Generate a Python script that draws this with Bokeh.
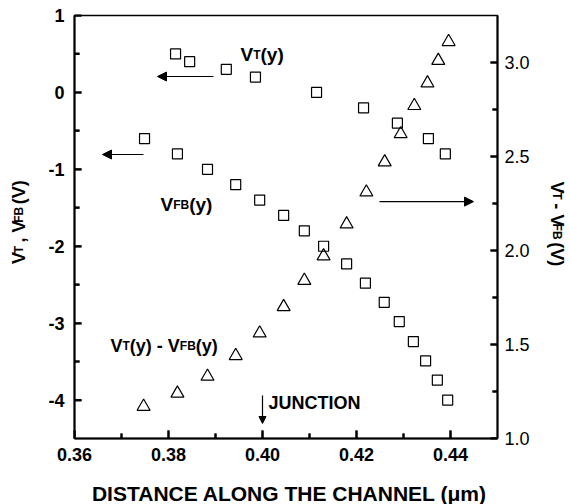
import math
from bokeh.plotting import figure
from bokeh.models import Range1d, LinearAxis, FixedTicker, Arrow, NormalHead
from bokeh.layouts import row, column
from bokeh.core.properties import value
from bokeh.embed import file_html
from bokeh.resources import INLINE

# ---------------- data ----------------
vt_x = [0.3815, 0.3845, 0.3923, 0.3985, 0.4115, 0.4215, 0.4287, 0.4353, 0.4389]
vt_y = [0.50, 0.40, 0.30, 0.20, 0.00, -0.20, -0.40, -0.60, -0.80]

vfb_x = [0.3749, 0.3819, 0.3883, 0.3943, 0.3994, 0.4045, 0.4089, 0.4130,
         0.4179, 0.4219, 0.4259, 0.4291, 0.4321, 0.4347, 0.4372, 0.4394]
vfb_y = [-0.60, -0.80, -1.00, -1.20, -1.40, -1.60, -1.80, -2.00,
         -2.23, -2.48, -2.73, -2.98, -3.24, -3.49, -3.74, -4.00]

diff_x = [0.3747, 0.3819, 0.3883, 0.3943, 0.3994, 0.4045, 0.4089, 0.4130,
          0.4179, 0.4221, 0.4260, 0.4294, 0.4323, 0.4351, 0.4374, 0.4396]
diff_y = [1.17, 1.24, 1.33, 1.44, 1.56, 1.70, 1.84, 1.97,
          2.14, 2.31, 2.47, 2.62, 2.77, 2.89, 3.01, 3.11]

x_ticks = [0.36, 0.38, 0.40, 0.42, 0.44]
x_tick_labels = ["0.36", "0.38", "0.40", "0.42", "0.44"]
x_minor = [0.37, 0.39, 0.41, 0.43]

yl_ticks = [-4, -3, -2, -1, 0, 1]
yl_tick_labels = ["-4", "-3", "-2", "-1", "0", "1"]
yl_minor = [-3.5, -2.5, -1.5, -0.5, 0.5]

yr_ticks = [1.0, 1.5, 2.0, 2.5, 3.0]
yr_tick_labels = ["1.0", "1.5", "2.0", "2.5", "3.0"]
yr_minor = [1.25, 1.75, 2.25, 2.75]

x_title = "DISTANCE ALONG THE CHANNEL (\u03bcm)"

X0, X1 = 0.36, 0.45
YL0, YL1 = -4.5, 1.0
YR0, YR1 = 1.0, 3.25

# ---------------- layout geometry (page pixels) ----------------
SIDE_L, SIDE_R = 30, 30
FL, FT, FW, FH = 74, 15, 423, 423          # frame position on the page
MAIN_W = 570 - SIDE_L - SIDE_R
MAIN_H = 476
BOT_H = 504 - MAIN_H
FONT = "Liberation Sans"

p = figure(width=MAIN_W, height=MAIN_H, frame_width=FW, frame_height=FH,
           min_border_left=FL - SIDE_L, min_border_right=MAIN_W - (FL - SIDE_L) - FW,
           min_border_top=FT, min_border_bottom=MAIN_H - FT - FH,
           x_range=Range1d(X0, X1), y_range=Range1d(YL0, YL1),
           output_backend="svg", toolbar_location=None)
p.extra_y_ranges = {"right": Range1d(YR0, YR1)}
p.xgrid.visible = False
p.ygrid.visible = False
p.outline_line_color = "black"
p.outline_line_width = 1.5
p.background_fill_color = "white"
p.border_fill_color = "white"

DX = (X1 - X0) / FW          # data per pixel, x
DYL = (YL1 - YL0) / FH       # data per pixel, left y
DYR = (YR1 - YR0) / FH       # data per pixel, right y


def px_x(px):
    return X0 + (px - FL) * DX


def px_yl(py):
    return YL1 - (py - FT) * DYL


def style_axis(ax, ticks, labels, minor, bold, tick_len):
    ax.ticker = FixedTicker(ticks=ticks, minor_ticks=minor)
    ax.major_label_overrides = {t: l for t, l in zip(ticks, labels)}
    ax.axis_line_width = 2
    ax.axis_line_color = "black"
    ax.major_tick_in = tick_len
    ax.major_tick_out = 0
    ax.minor_tick_in = 5
    ax.minor_tick_out = 0
    ax.major_tick_line_width = 2
    ax.minor_tick_line_width = 2
    ax.major_tick_line_color = "black"
    ax.minor_tick_line_color = "black"
    ax.major_label_text_font = FONT
    ax.major_label_text_font_size = "18px"
    ax.major_label_text_font_style = "bold" if bold else "normal"
    ax.major_label_text_color = "black"


style_axis(p.xaxis[0], x_ticks, x_tick_labels, x_minor, True, 8)
p.xaxis[0].major_label_standoff = 9
style_axis(p.yaxis[0], yl_ticks, yl_tick_labels, yl_minor, True, 7)
p.yaxis[0].major_label_standoff = 10

rax = LinearAxis(y_range_name="right")
style_axis(rax, yr_ticks, yr_tick_labels, yr_minor, False, 7)
rax.major_label_standoff = 7
p.add_layout(rax, "right")

# inward tick marks drawn at the axis tick positions
tk = dict(line_color="black", line_width=2)
p.segment(x0=x_ticks, y0=[YL0] * len(x_ticks), x1=x_ticks, y1=[YL0 + 8 * DYL] * len(x_ticks), **tk)
p.segment(x0=x_minor, y0=[YL0] * len(x_minor), x1=x_minor, y1=[YL0 + 5 * DYL] * len(x_minor), **tk)
p.segment(x0=[X0] * len(yl_ticks), y0=yl_ticks, x1=[X0 + 7 * DX] * len(yl_ticks), y1=yl_ticks, **tk)
p.segment(x0=[X0] * len(yl_minor), y0=yl_minor, x1=[X0 + 5 * DX] * len(yl_minor), y1=yl_minor, **tk)
p.segment(x0=[X1] * len(yr_ticks), y0=yr_ticks, x1=[X1 - 7 * DX] * len(yr_ticks), y1=yr_ticks,
          y_range_name="right", **tk)
p.segment(x0=[X1] * len(yr_minor), y0=yr_minor, x1=[X1 - 5 * DX] * len(yr_minor), y1=yr_minor,
          y_range_name="right", **tk)

# ---------------- marks ----------------
p.scatter(vt_x, vt_y, marker="square", size=10, fill_color=None,
          line_color="black", line_width=1.2)
p.scatter(vfb_x, vfb_y, marker="square", size=10, fill_color=None,
          line_color="black", line_width=1.2)
p.scatter(diff_x, diff_y, marker="triangle", size=13, fill_color=None,
          line_color="black", line_width=1.2, y_range_name="right")


# ---------------- arrows ----------------
def arrow(xs, ys, xe, ye, size=9, rng="default"):
    p.add_layout(Arrow(end=NormalHead(size=size, fill_color="black", line_color="black", line_width=1),
                       x_start=xs, y_start=ys, x_end=xe, y_end=ye,
                       line_color="black", line_width=1.2, y_range_name=rng))


arrow(px_x(213), px_yl(76), px_x(157), px_yl(76))
arrow(px_x(143), px_yl(154), px_x(102), px_yl(154))
arrow(px_x(379), 2.26, px_x(473), 2.26, rng="right")
arrow(0.40, px_yl(395), 0.40, px_yl(423), size=7)

# ---------------- rich text helper ----------------
W_REG = {'V': 667, 'T': 611, 'F': 611, 'B': 667, '(': 333, ')': 333, 'y': 500,
         ' ': 278, ',': 278, '-': 333, 'J': 500, 'U': 722, 'N': 722, 'C': 722,
         'I': 278, 'O': 778}
W_BOLD = {'V': 667, 'T': 611, 'F': 611, 'B': 722, '(': 333, ')': 333, 'y': 556,
          ' ': 278, ',': 278, '-': 333, 'J': 556, 'U': 722, 'N': 722, 'C': 722,
          'I': 278, 'O': 778}


def tw(s, size, bold):
    tbl = W_BOLD if bold else W_REG
    return sum(tbl.get(c, 600) for c in s) * size / 1000.0


def rich(fig, parts, x, y, bold=True, angle=0.0, center=False, dx=1.0, dy=1.0):
    """Place text pieces one after another; dx/dy = data units per pixel
    along the writing direction. Leading blanks become an advance."""
    total = sum(tw(s, sz, bold) for s, sz in parts)
    cum = -total / 2 if center else 0.0
    for s, sz in parts:
        body = s.lstrip(" ")
        lead = tw(s[:len(s) - len(body)], sz, bold)
        pos = cum + lead
        if angle == 0:
            xx, yy = x + pos * dx, y
        else:
            xx, yy = x, y + pos * dy
        fig.text(x=[xx], y=[yy], text=[body], angle=angle, text_align="left",
                 text_baseline="alphabetic", text_font=value(FONT),
                 text_font_size=value(f"{sz}px"),
                 text_font_style="bold" if bold else "normal", text_color="black")
        cum += tw(s, sz, bold)


rich(p, [("V", 19), ("T", 12), ("(y)", 19)], px_x(240), px_yl(54), dx=DX)
rich(p, [("V", 19), ("FB", 12), ("(y)", 19)], px_x(160), px_yl(204), dx=DX)
rich(p, [("V", 18), ("T", 12), ("(y) - V", 18), ("FB", 12), ("(y)", 18)],
     px_x(110), px_yl(345), dx=DX)
rich(p, [("JUNCTION", 18)], px_x(268), px_yl(402), dx=DX)


# ---------------- side panels holding the axis titles ----------------
def blank(w, h, xr, yr):
    f = figure(width=w, height=h, x_range=xr, y_range=yr, min_border=0,
               x_axis_type=None, y_axis_type=None, output_backend="svg",
               toolbar_location=None)
    f.outline_line_color = None
    f.xgrid.visible = False
    f.ygrid.visible = False
    f.background_fill_color = "white"
    f.border_fill_color = "white"
    return f


# page-pixel coordinates (y grows downward)
left = blank(SIDE_L, MAIN_H, Range1d(0, SIDE_L), Range1d(MAIN_H, 0))
right = blank(SIDE_R, MAIN_H, Range1d(570 - SIDE_R, 570), Range1d(MAIN_H, 0))
bottom = blank(570, BOT_H, Range1d(0, 570), Range1d(504, MAIN_H))

rich(left, [("V", 18), ("T", 12), (" , V", 18), ("FB", 12), (" (V)", 18)],
     18, 234, angle=math.pi / 2, center=True, dy=-1.0)
rich(right, [("V", 18), ("T", 12), (" - V", 18), ("FB", 12), (" (V)", 18)],
     556, 233, angle=-math.pi / 2, center=True, dy=1.0)
bottom.text(x=[289], y=[493], text=[x_title], text_align="center", text_baseline="alphabetic",
            text_font=value(FONT), text_font_size=value("21px"), text_font_style="bold",
            text_color="black")

layout = column(row(left, p, right, spacing=0), bottom, spacing=0)
open("out.html", "w").write(file_html(layout, INLINE))
